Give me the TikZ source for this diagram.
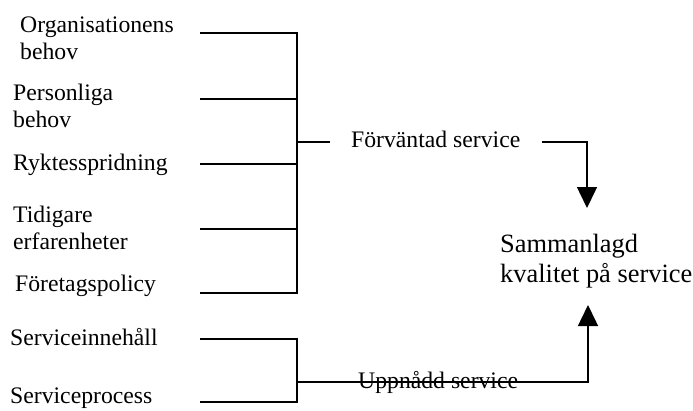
\documentclass[tikz,border=0pt]{standalone}
\usepackage{fontspec}
\setmainfont{Liberation Serif}
\usetikzlibrary{arrows.meta}
\begin{document}
\begin{tikzpicture}[x=1pt,y=-1pt,
  lbl/.style={anchor=base west,inner sep=0pt,align=left,
    font=\fontsize{23.7}{27}\selectfont},
  big/.style={anchor=base west,inner sep=0pt,align=left,
    font=\fontsize{26.4}{30}\selectfont},
  wire/.style={line width=1.5pt},
  arr/.style={wire,-{Triangle[width=20pt,length=21pt]}}]
\useasboundingbox (0,0) rectangle (693,410);

% input factors (multi-line labels are placed by their last baseline)
\node[lbl] (org)  at (20,59)  {Organisationens\\behov};
\node[lbl] (pers) at (13,127) {Personliga\\behov};
\node[lbl] (rykt) at (13,170) {Ryktesspridning};
\node[lbl] (tid)  at (13,249) {Tidigare\\erfarenheter};
\node[lbl] (pol)  at (15,291) {Företagspolicy};
\node[lbl] (sinn) at (10,345) {Serviceinnehåll};
\node[lbl] (sproc) at (10,403) {Serviceprocess};

% bracket end points
\coordinate (o1) at (200,33);  \coordinate (j1) at (297,33);
\coordinate (o2) at (200,99);  \coordinate (j2) at (297,99);
\coordinate (o3) at (200,164); \coordinate (j3) at (297,164);
\coordinate (o4) at (200,229); \coordinate (j4) at (297,229);
\coordinate (o5) at (200,293); \coordinate (j5) at (297,293);
\coordinate (jm) at (297,142); \coordinate (jme) at (330,142);

\coordinate (s1) at (200,339); \coordinate (k1) at (297,339);
\coordinate (s2) at (200,402); \coordinate (k2) at (297,402);
\coordinate (km) at (297,382);

% expected service branch
\draw[wire] (o1) -- (j1) -- (j5) -- (o5);
\draw[wire] (o2) -- (j2);
\draw[wire] (o3) -- (j3);
\draw[wire] (o4) -- (j4);
\draw[wire] (jm) -- (jme);

\node[lbl] (fv) at (351,147) {Förväntad service};
\coordinate (fvs) at (542,142);
\coordinate (fvc) at (587,142);

% total quality
\node[big] (tot) at (500,282) {Sammanlagd\\kvalitet på service};
\coordinate (tin) at (587,208);
\coordinate (bin) at (588,305);

\draw[arr] (fvs) -- (fvc) -- (tin);

% achieved service branch
\draw[wire] (s1) -- (k1) -- (k2) -- (s2);
\coordinate (upc) at (588,382);
\draw[arr] (km) -- (upc) -- (bin);
\node[lbl] (up) at (358,388) {Uppnådd service};
\end{tikzpicture}
\end{document}
